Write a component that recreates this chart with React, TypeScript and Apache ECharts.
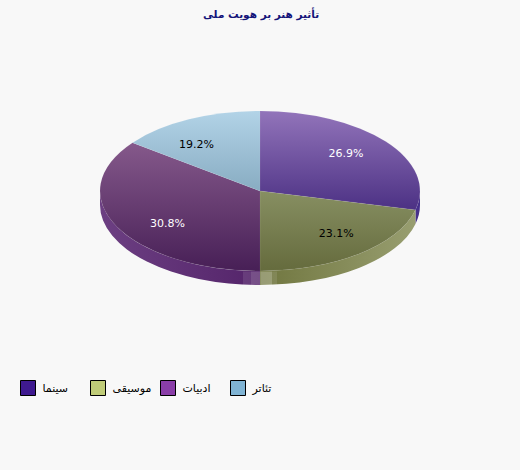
import React, { useEffect, useRef } from "react";
import * as echarts from "echarts";

const categories = ["سینما", "موسیقی", "ادبیات", "تئاتر"];
const seriesValues = [7, 6, 8, 5];
const legendColors = ["#3f1a90", "#c0cc78", "#8a3ea8", "#80b4d4"];
const topGradients = [
  ["#9274ba", "#4c3184"],
  ["#878f62", "#656b3d"],
  ["#85598b", "#471f56"],
  ["#b2d3e7", "#88acc2"],
];
const wallGradients = [
  ["#46308a", "#46308a"],
  ["#70763f", "#989e70"],
  ["#6c3f82", "#54246a"],
  ["#7f9fb5", "#7f9fb5"],
];
const labelColors = ["#ffffff", "#000000", "#ffffff", "#000000"];
const legendLefts = [20, 90, 160, 230];
const titleText = "تأثیر هنر بر هویت ملی";

const CX = 260;
const CY = 191;
const RX = 160;
const RY = 80;
const DEPTH = 14;
const TAU = Math.PI * 2;
const total = seriesValues.reduce((a, b) => a + b, 0);

const screenToParam = (theta: number) => {
  if (theta >= TAU - 1e-6) return TAU;
  let t = Math.atan2(Math.sin(theta) / RX, Math.cos(theta) / RY);
  if (t < 0) t += TAU;
  return t;
};
const pt = (t: number, dy = 0) => [CX + RX * Math.sin(t), CY - RY * Math.cos(t) + dy];
const f = (n: number) => n.toFixed(2);

function renderSlice(index: number) {
  return (_params: any, api: any) => {
    const value = api.value(0) as number;
    const before = seriesValues.slice(0, index).reduce((a, b) => a + b, 0);
    const a0 = (before / total) * TAU;
    const a1 = ((before + value) / total) * TAU;
    const t0 = screenToParam(a0);
    const t1 = screenToParam(a1);
    const p0 = pt(t0);
    const p1 = pt(t1);
    const large = t1 - t0 > Math.PI ? 1 : 0;
    const top = `M${CX} ${CY}L${f(p0[0])} ${f(p0[1])}A${RX} ${RY} 0 ${large} 1 ${f(p1[0])} ${f(p1[1])}Z`;
    const children: any[] = [];
    const w0 = Math.max(t0, Math.PI / 2);
    const w1 = Math.min(t1, (Math.PI * 3) / 2);
    if (w1 > w0) {
      const a = pt(w0);
      const b = pt(w1);
      const c = pt(w1, DEPTH);
      const d = pt(w0, DEPTH);
      children.push({
        type: "path",
        shape: {
          pathData: `M${f(a[0])} ${f(a[1])}A${RX} ${RY} 0 0 1 ${f(b[0])} ${f(b[1])}L${f(c[0])} ${f(c[1])}A${RX} ${RY} 0 0 0 ${f(d[0])} ${f(d[1])}Z`,
        },
        style: {
          fill:
            index === 2
              ? new echarts.graphic.LinearGradient(0, 0, 1, 0, [
                  { offset: 0, color: wallGradients[index][0] },
                  { offset: 1, color: wallGradients[index][1] },
                ])
              : new echarts.graphic.LinearGradient(0, 0, 1, 0, [
                  { offset: 0, color: wallGradients[index][0] },
                  { offset: 1, color: wallGradients[index][1] },
                ]),
        },
      });
    }
    children.push({
      type: "path",
      shape: { pathData: top },
      style: {
        fill: new echarts.graphic.LinearGradient(0, 0, 0, 1, [
          { offset: 0, color: topGradients[index][0] },
          { offset: 1, color: topGradients[index][1] },
        ]),
        stroke: "rgba(255,255,255,0.06)",
        lineWidth: 1,
      },
    });
    const mid = (a0 + a1) / 2;
    children.push({
      type: "text",
      x: CX + 0.71 * RX * Math.sin(mid) + 1,
      y: CY - 0.71 * RY * Math.cos(mid),
      style: {
        text: ((value / total) * 100).toFixed(1) + "%",
        fill: labelColors[index],
        font: '11px "DejaVu Sans"',
        align: "center",
        verticalAlign: "middle",
      },
    });
    return { type: "group", children };
  };
}

export default function App() {
  const ref = useRef<HTMLDivElement>(null);
  useEffect(() => {
    const chart = echarts.init(ref.current!, null, { renderer: "svg" });
    chart.setOption({
      animation: false,
      backgroundColor: "#f8f8f8",
      title: {
        text: titleText,
        left: 203,
        top: 8,
        padding: 0,
        textStyle: { color: "#14147a", fontSize: 10.5, fontWeight: "bold", fontFamily: "DejaVu Sans" },
      },
      legend: categories.map((name, i) => ({
        show: true,
        data: [name],
        left: legendLefts[i],
        top: 380,
        padding: 0,
        icon: "rect",
        itemWidth: 15,
        itemHeight: 15,
        itemGap: 0,
        selectedMode: false,
        itemStyle: { color: legendColors[i], borderColor: "#000", borderWidth: 1 },
        textStyle: { color: "#000", fontSize: 11, fontFamily: "DejaVu Sans", padding: [0, 0, 10, 2] },
      })),
      series: categories.map((name, i) => ({
        type: "custom",
        name,
        coordinateSystem: "none",
        silent: true,
        itemStyle: { color: legendColors[i] },
        data: [[seriesValues[i]]],
        renderItem: renderSlice(i),
      })),
      graphic: [
        { type: "rect", shape: { x: 243, y: 271.5, width: 8, height: 14 }, style: { fill: "rgba(255,255,255,0.1)" }, z: 20 },
        { type: "rect", shape: { x: 251, y: 271.5, width: 10, height: 14 }, style: { fill: "rgba(255,255,255,0.2)" }, z: 20 },
        { type: "rect", shape: { x: 261, y: 271.5, width: 11, height: 14 }, style: { fill: "rgba(255,255,255,0.28)" }, z: 20 },
        { type: "rect", shape: { x: 272, y: 271.5, width: 5, height: 14 }, style: { fill: "rgba(255,255,255,0.1)" }, z: 20 },
      ],
    });
    return () => chart.dispose();
  }, []);
  return <div ref={ref} style={{ position: "absolute", left: 0, top: 0, width: 520, height: 470 }} />;
}
